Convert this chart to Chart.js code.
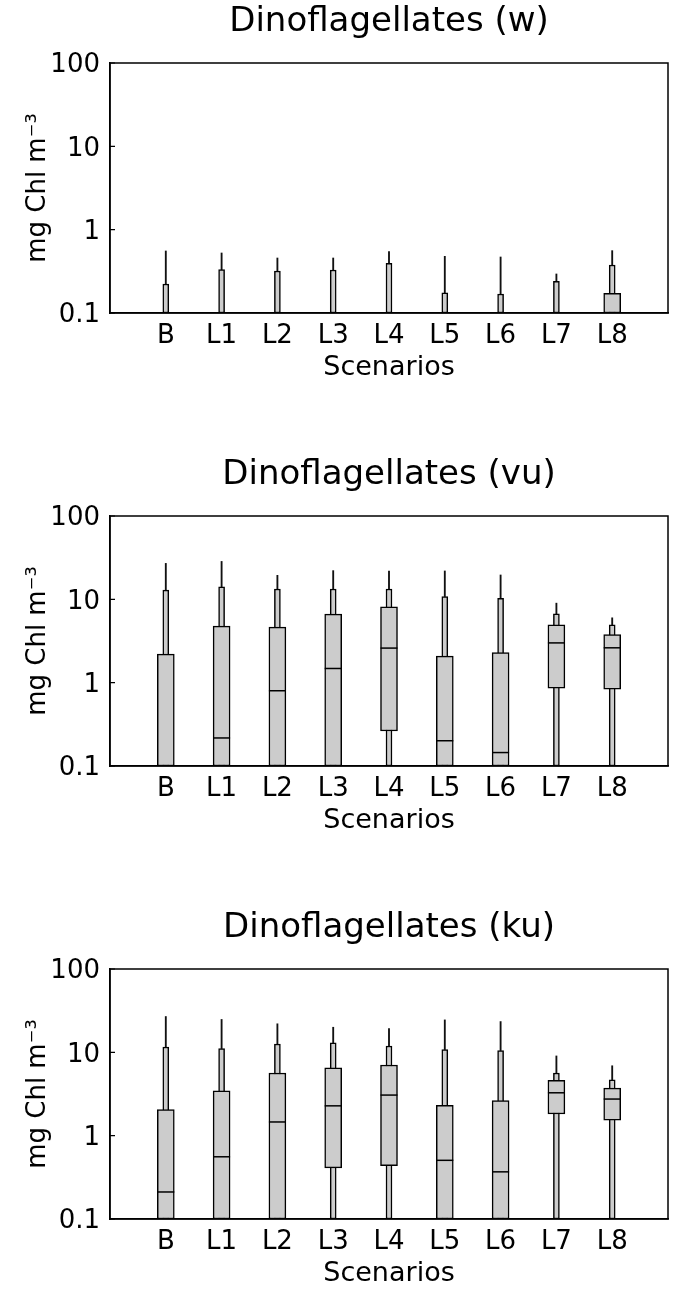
<!DOCTYPE html>
<html>
<head>
<meta charset="utf-8">
<script src="https://cdn.jsdelivr.net/npm/chart.js@4.4.1/dist/chart.umd.min.js"></script>
<style>
  html, body { margin: 0; padding: 0; background: #fff; overflow: hidden; }
  body { width: 678px; height: 1289px; position: relative; }
  canvas { position: absolute; left: 0; }
</style>
</head>
<body>
<canvas id="c1" width="678" height="383" style="top:0px"></canvas>
<canvas id="c2" width="678" height="383" style="top:453px"></canvas>
<canvas id="c3" width="678" height="383" style="top:906px"></canvas>
<script>
// ---- data ----
const categories = ['B', 'L1', 'L2', 'L3', 'L4', 'L5', 'L6', 'L7', 'L8'];
const yTicks = [0.1, 1, 10, 100];
const yMin = 0.1, yMax = 100;

// Panel (w)
const wTitle = 'Dinoflagellates (w)';
const wP10 = [0.1, 0.1, 0.1, 0.1, 0.1, 0.1, 0.1, 0.1, 0.1];
const wQ1 = [0.1, 0.1, 0.1, 0.1, 0.1, 0.1, 0.1, 0.1, 0.1];
const wMedian = [0.1, 0.1, 0.1, 0.1, 0.1, 0.1, 0.1, 0.1, 0.1];
const wQ3 = [0.1, 0.1, 0.1, 0.1, 0.1, 0.1, 0.1, 0.1, 0.172];
const wP90 = [0.223, 0.331, 0.319, 0.328, 0.395, 0.175, 0.169, 0.24, 0.377];
const wMax = [0.555, 0.525, 0.457, 0.457, 0.544, 0.479, 0.47, 0.294, 0.56];

// Panel (vu)
const vuTitle = 'Dinoflagellates (vu)';
const vuP10 = [0.1, 0.1, 0.1, 0.1, 0.1, 0.1, 0.1, 0.1, 0.1];
const vuQ1 = [0.1, 0.1, 0.1, 0.1, 0.263, 0.1, 0.1, 0.86, 0.835];
const vuMedian = [0.1, 0.217, 0.80, 1.48, 2.6, 0.201, 0.145, 3.0, 2.62];
const vuQ3 = [2.2, 4.78, 4.65, 6.65, 8.15, 2.08, 2.3, 4.95, 3.78];
const vuP90 = [12.9, 14.1, 13.3, 13.3, 13.3, 10.8, 10.3, 6.7, 4.95];
const vuMax = [27, 28.5, 19.4, 22.1, 21.9, 21.9, 19.6, 9.0, 6.0];

// Panel (ku)
const kuTitle = 'Dinoflagellates (ku)';
const kuP10 = [0.1, 0.1, 0.1, 0.1, 0.1, 0.1, 0.1, 0.1, 0.1];
const kuQ1 = [0.1, 0.1, 0.1, 0.41, 0.435, 0.1, 0.1, 1.82, 1.53];
const kuMedian = [0.211, 0.558, 1.46, 2.28, 3.07, 0.506, 0.368, 3.27, 2.75];
const kuQ3 = [2.06, 3.46, 5.65, 6.5, 7.05, 2.32, 2.64, 4.6, 3.72];
const kuP90 = [11.6, 11.1, 12.6, 13, 11.9, 10.8, 10.5, 5.65, 4.69];
const kuMax = [26.9, 24.8, 22, 20, 19.3, 24.5, 23.4, 9.05, 6.9];

const xTitle = 'Scenarios';
const yTitle = 'mg Chl m\u207B\u00B3';

// ---- rendering ----
Chart.defaults.font.family = "'DejaVu Sans', sans-serif";
Chart.defaults.color = '#000';

const pad = arr => [null, ...arr, null];
const labels = ['', ...categories, ''];

const framePlugin = {
  id: 'frame',
  afterDatasetsDraw(chart) {
    const {ctx, chartArea: a} = chart;
    const ys = chart.scales.y;
    ctx.save();
    ctx.strokeStyle = '#000';
    ctx.lineWidth = 1.5;
    ctx.strokeRect(a.left, a.top, a.right - a.left, a.bottom - a.top);
    ctx.lineWidth = 1.2;
    ctx.beginPath();
    yTicks.forEach(v => {
      const py = ys.getPixelForValue(v);
      ctx.moveTo(a.left, py);
      ctx.lineTo(a.left + 5, py);
    });
    ctx.stroke();
    ctx.restore();
  }
};

function makeChart(id, title, p10, q1, med, q3, p90, mx) {
  const boxData = q1.map((v, i) => (q3[i] > v ? [v, q3[i]] : null));
  const narrowData = p10.map((v, i) => (p90[i] > v ? [v, p90[i]] : null));
  const whiskerData = p90.map((v, i) => (mx[i] > v ? [v, mx[i]] : null));
  const medData = med.map(v => (v > yMin ? v : null));
  new Chart(document.getElementById(id), {
    type: 'bar',
    data: {
      labels: labels,
      datasets: [
        {
          type: 'line', data: pad(medData), showLine: false,
          pointStyle: 'line', pointRadius: 8.5, pointHoverRadius: 8.5,
          pointBorderWidth: 1.5, pointBorderColor: '#000', pointBackgroundColor: '#000',
          order: 0
        },
        {
          data: pad(boxData), barThickness: 17, grouped: false,
          backgroundColor: '#cccccc', borderColor: '#000', borderWidth: 1.5,
          borderSkipped: false, order: 1
        },
        {
          data: pad(narrowData), barThickness: 6, grouped: false,
          backgroundColor: '#cccccc', borderColor: '#000', borderWidth: 1.5,
          borderSkipped: false, order: 2
        },
        {
          data: pad(whiskerData), barThickness: 1.2, grouped: false,
          backgroundColor: '#111', borderWidth: 0, order: 3
        }
      ]
    },
    options: {
      responsive: false,
      animation: false,
      devicePixelRatio: 1,
      layout: { padding: { top: 0, left: 0, right: 2, bottom: 0 } },
      plugins: {
        legend: { display: false },
        tooltip: { enabled: false },
        title: { display: false }
      },
      scales: {
        x: {
          type: 'category', offset: false,
          grid: { display: false, drawTicks: false },
          border: { display: true, color: '#000', width: 1.5 },
          ticks: { font: { size: 26 }, color: '#000', padding: 8, autoSkip: false, maxRotation: 0 },
          title: { display: true, text: xTitle, color: '#000', font: { size: 27, lineHeight: 1 }, padding: { top: 0, bottom: 2 } },
          afterFit: s => { s.height = 70; }
        },
        xTop: {
          type: 'category', position: 'top', offset: false,
          grid: { display: false, drawTicks: false },
          border: { display: false },
          ticks: { display: false },
          title: { display: true, text: title, color: '#000', font: { size: 34, weight: 'normal' }, padding: { top: 2, bottom: 0 } },
          afterFit: s => { s.height = 63; }
        },
        y: {
          type: 'logarithmic', min: yMin, max: yMax,
          grid: { display: false, drawTicks: false },
          border: { display: true, color: '#000', width: 1.5 },
          afterBuildTicks: s => { s.ticks = yTicks.map(v => ({ value: v })); },
          ticks: {
            font: { size: 26 }, color: '#000', padding: 10, labelOffset: 2.5,
            callback: v => String(v)
          },
          title: { display: true, text: yTitle, color: '#000', font: { size: 26 }, padding: { top: 23, bottom: 0 } },
          afterFit: s => { s.width = 110; }
        }
      }
    },
    plugins: [framePlugin]
  });
}

makeChart('c1', wTitle, wP10, wQ1, wMedian, wQ3, wP90, wMax);
makeChart('c2', vuTitle, vuP10, vuQ1, vuMedian, vuQ3, vuP90, vuMax);
makeChart('c3', kuTitle, kuP10, kuQ1, kuMedian, kuQ3, kuP90, kuMax);
</script>
</body>
</html>
